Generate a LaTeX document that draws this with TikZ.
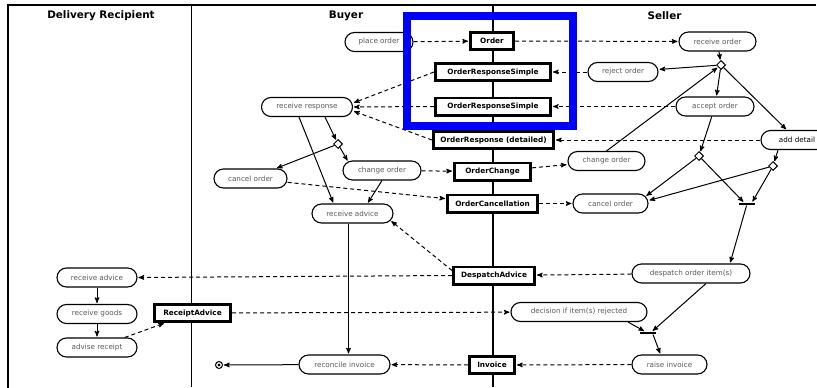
\documentclass[tikz,border=0pt]{standalone}
\usepackage{fontspec}
\setmainfont{DejaVu Sans}
\usepackage{tikz}
\usetikzlibrary{arrows,shapes.geometric}

\begin{document}
\begin{tikzpicture}[x=1pt,y=-1pt,>=stealth',shorten >=1pt,
  action node/.style={draw,rounded corners=9.5pt,fill=white,line width=1.1pt,inner sep=0pt,
    minimum height=19pt,text=black!65,font=\fontsize{7.2}{8}\selectfont},
  doc node/.style={draw,fill=white,line width=2.6pt,inner sep=0pt,minimum height=17.4pt,
    font=\fontsize{7.3}{8}\selectfont\bfseries},
  decision node/.style={diamond,draw,fill=white,line width=1pt,inner sep=0pt,minimum size=9pt},
  bar node/.style={fill=black,inner sep=0pt,minimum width=16pt,minimum height=2.6pt},
  final node/.style={circle,draw,line width=1pt,inner sep=0pt,minimum size=7pt,
    path picture={\fill (path picture bounding box.center) circle (1.6pt);}},
  lane title/.style={font=\fontsize{10.4}{12}\selectfont\bfseries},
  flow/.style={->,line width=1pt},
  msg/.style={->,line width=1pt,dash pattern=on 4pt off 3pt}]
  \useasboundingbox (0,0) rectangle (817,388);

  \draw[line width=1.2pt] (8,388) -- (8,5) -- (817,5);
  \draw[line width=1.2pt] (191.5,5) -- (191.5,388);
  \draw[line width=1.2pt] (493,5) -- (493,388);
  \node[lane title] (tdr) at (101,16) {Delivery Recipient};
  \node[lane title] (tbuy) at (346,16) {Buyer};
  \node[lane title] (tsel) at (664.5,16) {Seller};

  \node[action node,minimum width=80pt] (radr) at (97,277.5) {receive advice};
  \node[action node,minimum width=80pt] (rgoods) at (97,314) {receive goods};
  \node[action node,minimum width=80pt] (advrec) at (97,347.5) {advise receipt};

  \node[action node,minimum width=68pt] (place) at (379,42) {place order};
  \node[action node,minimum width=91pt] (recresp) at (307,107) {receive response};
  \node[decision node] (dbuy) at (338,144) {};
  \node[action node,minimum width=78pt] (bchange) at (382,170.5) {change order};
  \node[action node,minimum width=73pt] (bcancel) at (250.5,178.5) {cancel order};
  \node[action node,minimum width=81pt] (badvice) at (352.5,213.5) {receive advice};
  \node[action node,minimum width=91pt] (reconc) at (344.5,364.5) {reconcile invoice};
  \node[final node] (fin) at (219,365) {};

  \node[doc node,minimum width=43.4pt] (order) at (492,41) {Order};
  \node[doc node,minimum width=115.4pt] (ors1) at (493,72) {OrderResponseSimple};
  \node[doc node,minimum width=115.4pt] (ors2) at (493,106.5) {OrderResponseSimple};
  \node[doc node,minimum width=120.4pt] (ordet) at (493.5,140) {OrderResponse (detailed)};
  \node[doc node,minimum width=76.4pt] (ochange) at (492.5,171.5) {OrderChange};
  \node[doc node,minimum width=90.4pt] (ocancel) at (492.5,203.5) {OrderCancellation};
  \node[doc node,minimum width=81.4pt] (despadv) at (494,275.5) {DespatchAdvice};
  \node[doc node,minimum width=45.4pt] (invoice) at (492,365) {Invoice};
  \node[doc node,minimum width=76.4pt] (recadv) at (192.5,313) {ReceiptAdvice};

  \node[action node,minimum width=77pt] (recorder) at (717.5,41.5) {receive order};
  \node[decision node] (dtop) at (721,65) {};
  \node[action node,minimum width=70pt] (reject) at (623,72) {reject order};
  \node[action node,minimum width=78pt] (accept) at (715,106.5) {accept order};
  \node[action node,minimum width=72pt,text=black] (adddet) at (797,140) {add detail};
  \node[action node,minimum width=77pt] (schange) at (606.5,161) {change order};
  \node[decision node] (dacc) at (699,156) {};
  \node[decision node] (dadd) at (773,166) {};
  \node[action node,minimum width=75pt] (scancel) at (610.5,203.5) {cancel order};
  \node[bar node] (join1) at (747,204) {};
  \node[action node,minimum width=118pt] (despatch) at (691,273.5) {despatch order item(s)};
  \node[action node,minimum width=136pt] (decide) at (579,312) {decision if item(s) rejected};
  \node[bar node] (join2) at (648,333) {};
  \node[action node,minimum width=75pt] (raise) at (669.5,364.5) {raise invoice};

  \path[msg]
    (place) edge (order)
    (order) edge (recorder)
    (reject) edge (ors1)
    (ors1.west) edge ([yshift=4pt]recresp.east)
    (accept) edge (ors2)
    (ors2.west) edge (recresp.east)
    (adddet) edge (ordet)
    (ordet.west) edge ([yshift=-4pt]recresp.east)
    (bchange) edge (ochange)
    (ochange) edge (schange)
    (bcancel) edge (ocancel)
    (ocancel) edge (scancel)
    (despatch) edge (despadv)
    ([yshift=5pt]despadv.west) edge ([xshift=-3pt,yshift=3pt]badvice.south east)
    (despadv.west) edge (radr.east)
    (advrec) edge (recadv)
    (recadv) edge (decide)
    (raise) edge (invoice)
    (invoice) edge (reconc);

  \path[flow]
    (recorder) edge (dtop)
    (dtop) edge (reject)
    (dtop) edge (accept)
    (dtop) edge (adddet)
    (schange.north) edge (dtop)
    (accept) edge (dacc)
    (dacc) edge ([xshift=-3pt,yshift=-3pt]scancel.north east)
    (dacc) edge ([xshift=-3pt]join1.north)
    ([xshift=-19pt]adddet.south) edge (dadd)
    (dadd) edge ([yshift=3pt]scancel.east)
    (dadd) edge ([xshift=5pt]join1.north)
    (join1) edge ([xshift=39pt]despatch.north)
    ([xshift=15pt]despatch.south) edge ([xshift=4pt]join2.north)
    ([xshift=49pt]decide.south) edge ([xshift=-3pt]join2.north)
    ([xshift=5pt]join2.south) edge ([xshift=-9pt]raise.north)
    ([xshift=18pt]recresp.south) edge (dbuy)
    ([xshift=-8pt]recresp.south) edge ([xshift=-19pt]badvice.north)
    (dbuy) edge (bcancel)
    (dbuy) edge ([xshift=-34pt,yshift=-1pt]bchange.north)
    (bchange.south) edge ([xshift=15pt]badvice.north)
    ([xshift=-4pt]badvice.south) edge ([xshift=4pt]reconc.north)
    (reconc) edge (fin)
    (radr) edge (rgoods)
    (rgoods) edge (advrec);

  \draw[blue,line width=8pt] (407,16) rectangle (573,126);
\end{tikzpicture}
\end{document}
